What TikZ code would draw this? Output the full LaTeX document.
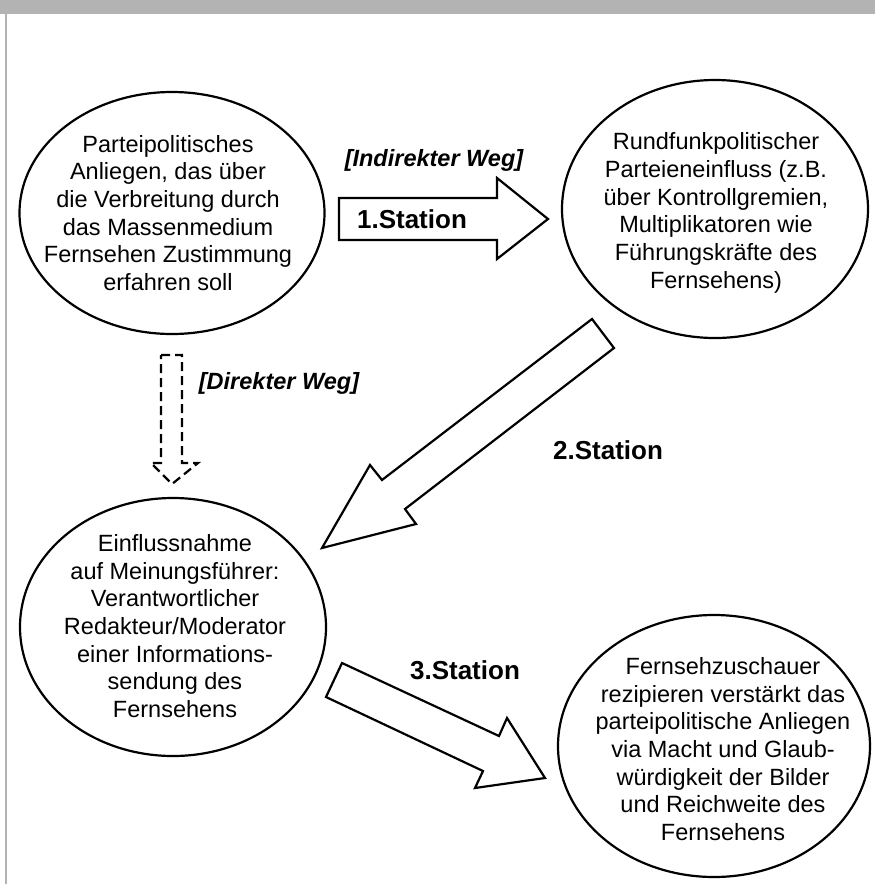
\documentclass[tikz,border=0pt]{standalone}
\usepackage{fontspec}
\setmainfont{Liberation Sans}
\usetikzlibrary{shapes.geometric}
\definecolor{bandgray}{RGB}{179,179,179}
\begin{document}
\begin{tikzpicture}[x=1pt,y=-1pt,
  bubble/.style={draw=black, line width=2.2pt, ellipse, inner sep=0pt},
  body/.style={align=center, font=\fontsize{23.5}{27.7}\selectfont, inner sep=0pt},
  station/.style={font=\fontsize{26}{30}\selectfont\bfseries, inner sep=0pt},
  waylabel/.style={font=\fontsize{23.5}{28}\selectfont\bfseries\itshape, inner sep=0pt},
  blockarrow/.style={draw=black, line width=2.2pt, line join=miter, fill=white},
  dasharrow/.style={draw=black, line width=2.2pt, dash pattern=on 9pt off 5pt}
]
\useasboundingbox (0,0) rectangle (875,884);
\fill[white] (0,0) rectangle (875,884);
\fill[bandgray] (0,0) rectangle (875,14);
\draw[bandgray, line width=2pt] (5.5,14) -- (5.5,884);

% ellipses
\node[bubble, minimum width=305pt, minimum height=242pt] (e1) at (172,213) {};
\node[bubble, minimum width=306pt, minimum height=258pt] (e2) at (715,209) {};
\node[bubble, minimum width=306pt, minimum height=258pt] (e3) at (173,627) {};
\node[bubble, minimum width=312pt, minimum height=262pt] (e4) at (714,746) {};

% texts
\node[body] (t1) at (168,213) {Parteipolitisches\\Anliegen, das über\\die Verbreitung durch\\das Massenmedium\\Fernsehen Zustimmung\\erfahren soll};
\node[body] (t2) at (716,213) {Rundfunkpolitischer\\Parteieneinfluss (z.B.\\über Kontrollgremien,\\Multiplikatoren wie\\Führungskräfte des\\Fernsehens)};
\node[body] (t3) at (175,626) {Einflussnahme\\auf Meinungsführer:\\Verantwortlicher\\Redakteur/Moderator\\einer Informations-\\sendung des\\Fernsehens};
\node[body] (t4) at (723,749) {Fernsehzuschauer\\rezipieren verstärkt das\\parteipolitische Anliegen\\via Macht und Glaub-\\würdigkeit der Bilder\\und Reichweite des\\Fernsehens};

% block arrows
\draw[blockarrow] (339,198) -- (497,198) -- (497,178) -- (548,219) -- (497,259) -- (497,240) -- (339,240) -- cycle;
\draw[blockarrow] (592,319) -- (614,348) -- (405,509) -- (416,524) -- (322,548) -- (370,465) -- (382,480) -- cycle;
\draw[blockarrow] (342,663) -- (499,736) -- (507,718) -- (545,778) -- (475,788) -- (483,771) -- (326,697) -- cycle;

% dashed arrow
\draw[dasharrow] (161,355) -- (182,355) -- (182,463) -- (198,463) -- (172,484) -- (151,463) -- (161,463) -- cycle;

% labels
\node[station] (s1) at (412,219) {1.Station};
\node[station] (s2) at (608,450) {2.Station};
\node[station] (s3) at (465,670) {3.Station};
\node[waylabel] (w1) at (434,160) {[Indirekter Weg]};
\node[waylabel] (w2) at (279,383) {[Direkter Weg]};
\end{tikzpicture}
\end{document}
